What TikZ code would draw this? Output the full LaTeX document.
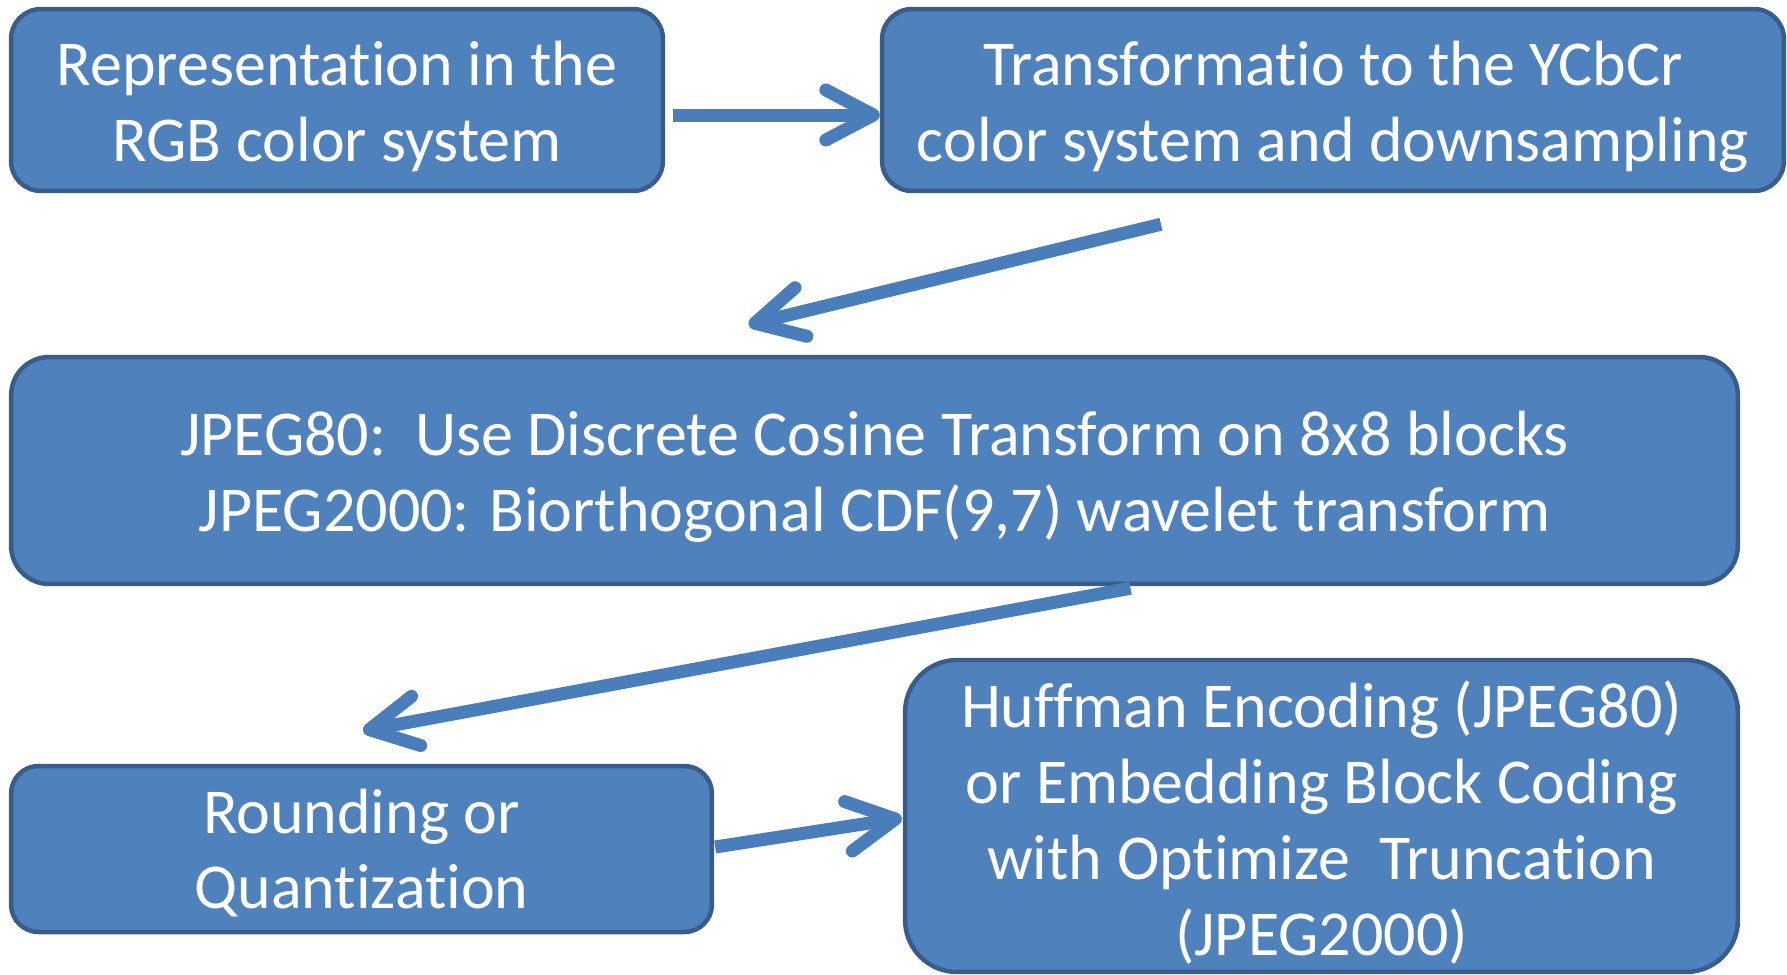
\documentclass[tikz,border=0pt]{standalone}
\usepackage{fontspec}
\setmainfont{Carlito}[Ligatures=NoCommon]
\usetikzlibrary{arrows.meta,calc}

\definecolor{boxfill}{HTML}{4F81BD}
\definecolor{boxline}{HTML}{385D8A}
\definecolor{linkcol}{HTML}{4A7EBB}

\tikzset{
  stage/.style={draw=boxline, fill=boxfill, line width=0.09cm, inner sep=0pt},
  stagetext/.style={text=white, align=center, inner sep=0pt,
    font=\fontsize{36.4}{43.2}\selectfont},
  link/.style={draw=linkcol, line width=0.26cm,
    -{Straight Barb[length=0.95cm, width=1.0cm, round]}},
}

\begin{document}
\begin{tikzpicture}[x=0.02cm, y=-0.02cm]
\useasboundingbox (0,0) rectangle (1787,974);

% processing stages
\node[stage, minimum width=13.04cm, minimum height=3.64cm, rounded corners=0.6cm]
  (b1) at (337,100) {};
\node[stage, minimum width=18.04cm, minimum height=3.64cm, rounded corners=0.6cm]
  (b2) at (1333,100) {};
\node[stage, minimum width=34.54cm, minimum height=4.54cm, rounded corners=0.76cm]
  (b3) at (874.5,470.5) {};
\node[stage, minimum width=14.02cm, minimum height=3.32cm, rounded corners=0.55cm]
  (b4) at (361.5,849) {};
\node[stage, minimum width=16.66cm, minimum height=6.24cm, rounded corners=1.04cm]
  (b5) at (1321.5,816) {};

% stage captions, set slightly below each box centre
\node[stagetext] (t1) at ($(b1.center)+(0,6.5)$) {Representation in the\\RGB color system};
\node[stagetext] (t2) at ($(b2.center)+(0,6.5)$) {Transformatio to the YCbCr\\color system and downsampling};
\node[stagetext] (t3) at ($(b3.center)+(0,6.5)$) {JPEG80:\ \ Use Discrete Cosine Transform on 8x8 blocks\\JPEG2000: Biorthogonal CDF(9,7) wavelet transform};
\node[stagetext] (t4) at ($(b4.center)+(0,4)$) {Rounding or\\Quantization};
\node[stagetext] (t5) at ($(b5.center)+(0,6.5)$) {Huffman Encoding (JPEG80)\\or Embedding Block Coding\\with Optimize\ \ Truncation\\(JPEG2000)};

% flow between the stages
\draw[link] ($(b1.east)+(8,15)$) coordinate (a1s) -- (a1s -| b2.west);
\draw[link] ($(b2.south)+(-172,31)$) -- ($(b3.north)+(-126,-30)$);
\draw[link] ($(b3.south)+(256,2)$) -- ($(b4.north)+(1.5,-33)$);
\draw[link] ($(b4.east)+(1,-2)$) -- ($(b5.west)+(-1,2)$);
\end{tikzpicture}
\end{document}
